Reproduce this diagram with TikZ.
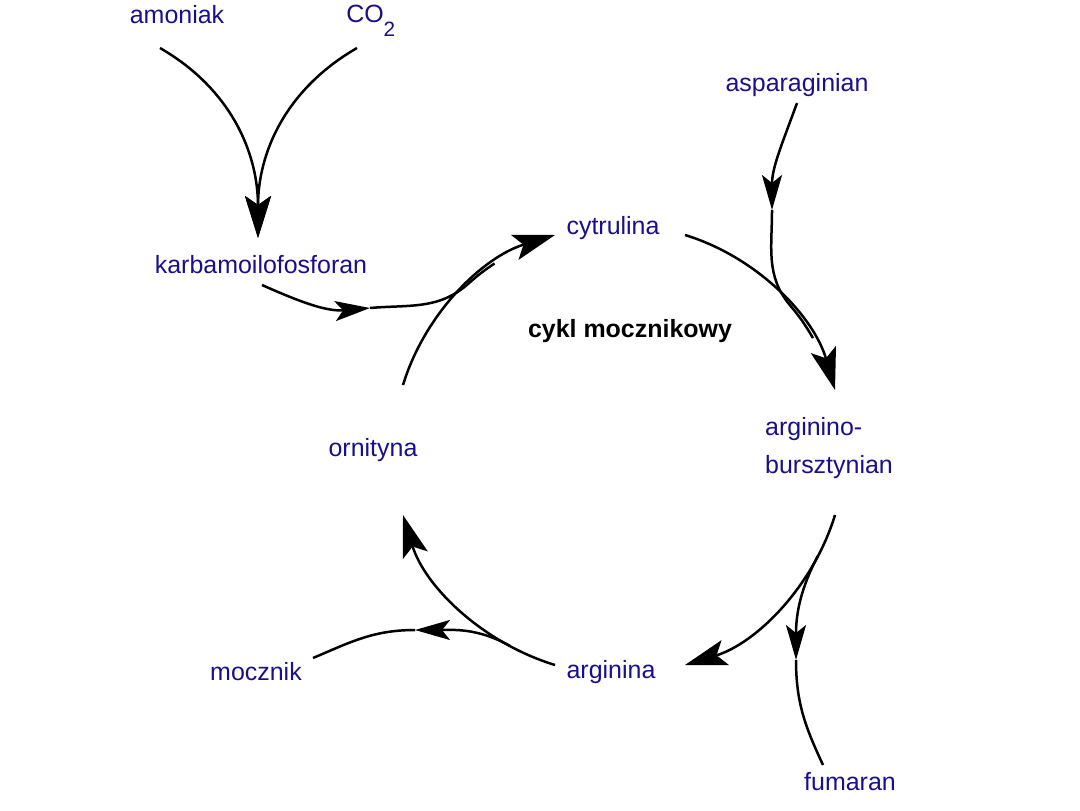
\documentclass[tikz,border=0pt]{standalone}
\usepackage{fontspec}
\setmainfont{Liberation Sans}
\usepackage{xcolor}
\usetikzlibrary{arrows.meta}

\definecolor{chemblue}{RGB}{25,15,140}

\begin{document}
\begin{tikzpicture}[x=0.2mm, y=0.2mm, line width=0.5mm,
        >={Stealth[length=8.4mm, width=5.2mm, inset=1.8mm]},
        lbl/.style={text=chemblue, inner sep=0pt, font=\fontsize{14.2}{21.6}\selectfont},
        mid/.style={-{Stealth[length=7mm, width=4mm, inset=1.6mm]}}]
            \useasboundingbox (0,0) rectangle (1080,810);

            \node[lbl] (amon) at (177,795) {amoniak};
            \node[lbl, anchor=base west] (co2) at (345,787) {CO\raisebox{-7.4pt}{\fontsize{11.8}{12}\selectfont 2}};
            \node[lbl] (karb) at (261,545) {karbamoilofosforan};
            \node[lbl] (cytr) at (613,582) {cytrulina};
            \node[lbl] (aspar) at (797,725) {asparaginian};
            \node[lbl, align=left] (argbur) at (829,362) {arginino-\\bursztynian};
            \node[lbl] (ornit) at (373,360) {ornityna};
            \node[lbl] (mocz) at (256,138) {mocznik};
            \node[lbl] (argin) at (611,138) {arginina};
            \node[lbl] (fumar) at (850,28) {fumaran};
            \node[inner sep=0pt, font=\fontsize{14.2}{17}\selectfont\bfseries] (cykl) at (630,479) {cykl mocznikowy};

            \coordinate (m1) at (370,502);
            \coordinate (m2) at (772,600);
            \coordinate (m3) at (796,150);
            \coordinate (m4) at (415,180);

            \draw[->] ([shift={(30,65)}]ornit.center) to[out=73, in=197, looseness=0.9]
                coordinate[pos=0.55] (j1a) coordinate[pos=0.7] (j1b) ([shift={(-58,-7)}]cytr.center);
            \draw[->] ([shift={(72,-7)}]cytr.center) to[out=-17, in=106, looseness=0.9]
                coordinate[pos=0.57] (j2a) coordinate[pos=0.75] (j2b) ([shift={(6,58)}]argbur.center);
            \draw[->] ([shift={(6,-67)}]argbur.center) to[out=-107, in=17, looseness=0.9]
                coordinate[pos=0.2] (j3) ([shift={(74,7)}]argin.center);
            \draw[->] ([shift={(-56,7)}]argin.center) to[out=163, in=-73, looseness=0.9]
                coordinate[pos=0.22] (j4) ([shift={(30,-65)}]ornit.center);

            \draw[->] ([shift={(-17,-33)}]amon.center) to[out=-30, in=90] ([shift={(-3,27)}]karb.center);
            \draw[->] ([shift={(12,-25)}]co2.base west) to[out=210, in=90] ([shift={(-3,27)}]karb.center);

            \draw[mid] ([shift={(1,-20)}]karb.center) to[out=-24, in=185] (m1);
            \draw (m1) to[out=5, in=221.7] (j1a) to[out=41.7, in=213.5] (j1b);

            \draw[mid] ([shift={(0,-18)}]aspar.center) to[out=250, in=90] (m2);
            \draw (m2) to[out=-90, in=130] (j2a) to[out=-50, in=120] (j2b);

            \draw[mid] (j3) to[out=-118, in=90] (m3);
            \draw (m3) to[out=-90, in=115] ([shift={(-27,17)}]fumar.center);

            \draw[mid] (j4) to[out=151, in=0] (m4);
            \draw (m4) to[out=180, in=23] ([shift={(57,14)}]mocz.center);
        \end{tikzpicture}
\end{document}
